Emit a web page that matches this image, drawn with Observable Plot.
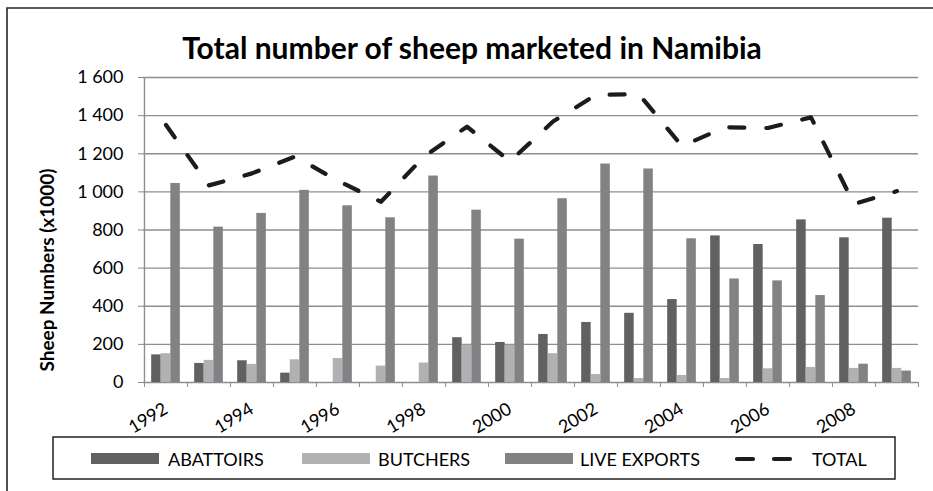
<!DOCTYPE html>
<html><head><meta charset="utf-8">
<script src="https://cdn.jsdelivr.net/npm/d3@7"></script>
<script src="https://cdn.jsdelivr.net/npm/@observablehq/plot@0.6"></script>
<style>body{margin:0;background:#fff;overflow:hidden;}</style>
</head><body><div id="chart"></div>
<script>
const years = [1992,1993,1994,1995,1996,1997,1998,1999,2000,2001,2002,2003,2004,2005,2006,2007,2008,2009];
const abattoirs = [145,100,114,49,0,0,0,235,210,252,315,363,435,769,724,853,759,862];
const butchers = [151,116,95,119,126,86,102,196,195,151,42,21,37,21,72,79,74,74];
const liveExports = [1044,815,887,1008,927,864,1083,904,752,964,1146,1120,754,543,533,456,96,60];
const total = [1351,1034,1097,1185,1058,948,1185,1342,1160,1369,1509,1512,1240,1339,1335,1391,936,1004];
const yTicks = [0,200,400,600,800,1000,1200,1400,1600];
const xLabels = [1992,1994,1996,1998,2000,2002,2004,2006,2008];
const seriesNames = ["ABATTOIRS","BUTCHERS","LIVE EXPORTS","TOTAL"];
const colors = ["#616161","#b1b1b3","#828285","#1c1c1c"];
const titleText = "Total number of sheep marketed in Namibia";
const yLabelText = "Sheep Numbers (x1000)";

const W = 933, H = 491, mL = 143, mR = 15, mT = 77, mB = 109;
const bw = (W - mL - mR) / years.length;
const barW = bw / 4.5;
const outer = (bw - 3 * barW) / 2;
const fmt = d3.formatLocale({decimal: ".", thousands: " ", grouping: [3], currency: ["", ""]}).format(",");
const rows = years.map((y, i) => ({year: y, a: abattoirs[i], b: butchers[i], l: liveExports[i], t: total[i]}));
const gridColor = "#8e8e8e";

const chart = Plot.plot({
  width: W, height: H,
  marginLeft: mL, marginRight: mR, marginTop: mT, marginBottom: mB,
  style: {fontFamily: "Lato, 'Open Sans', sans-serif", fontSize: "16px", background: "#fff", color: "#000", overflow: "visible"},
  x: {type: "band", domain: years, padding: 0, label: null},
  y: {domain: [0, 1600], label: null},
  marks: [
    Plot.ruleY(yTicks, {stroke: gridColor, strokeWidth: 1.4}),
    Plot.ruleX([years[0]], {x: d => d, dx: -bw / 2, stroke: gridColor, strokeWidth: 1.4}),
    Plot.barY(rows, {x: "year", y: "a", fill: colors[0], insetLeft: outer, insetRight: bw - outer - barW}),
    Plot.barY(rows, {x: "year", y: "b", fill: colors[1], insetLeft: outer + barW, insetRight: bw - outer - 2 * barW}),
    Plot.barY(rows, {x: "year", y: "l", fill: colors[2], insetLeft: outer + 2 * barW, insetRight: outer}),
    Plot.line(rows, {x: "year", y: "t", stroke: colors[3], strokeWidth: 4.2, strokeDasharray: "15,22", strokeLinecap: "round", strokeLinejoin: "round"}),
    Plot.axisY({ticks: yTicks, tickSize: 5, tickPadding: 15, tickFormat: fmt, fontSize: 18, label: null, stroke: gridColor, fill: "#000"}),
    Plot.axisX({ticks: years, tickSize: 5, dx: -bw / 2, fill: "none", stroke: gridColor, label: null}),
    Plot.axisX({ticks: [years[years.length - 1]], tickSize: 5, dx: bw / 2, fill: "none", stroke: gridColor, label: null}),
    Plot.axisX({ticks: xLabels, tickSize: 0, tickPadding: 16, dy: 9, tickRotate: -31, tickFormat: d => String(d), fontSize: 18, label: null, fill: "#000"})
  ]
});

const svg = d3.select(chart);
svg.append("path").attr("d", `M7,${H + 5}V8H${W + 5}`).attr("fill", "none").attr("stroke", "#262626").attr("stroke-width", 1.6);
svg.append("text").attr("x", 472).attr("y", 59).attr("text-anchor", "middle")
  .attr("font-weight", "bold").attr("font-size", 30).attr("fill", "#000").text(titleText);
svg.append("text").attr("transform", "translate(54,270) rotate(-90)").attr("text-anchor", "middle")
  .attr("font-weight", "bold").attr("font-size", 19).attr("fill", "#000").text(yLabelText);

const lg = svg.append("g").attr("text-anchor", "start");
lg.append("rect").attr("x", 53).attr("y", 437).attr("width", 842).attr("height", 42)
  .attr("fill", "none").attr("stroke", "#222").attr("stroke-width", 1.5);
const swX = [91, 302, 505];
const txX = [168, 378, 580, 812];
swX.forEach((x, i) => {
  lg.append("rect").attr("x", x).attr("y", 453).attr("width", 68).attr("height", 11).attr("fill", colors[i]);
});
lg.append("line").attr("x1", 737).attr("x2", 790).attr("y1", 459).attr("y2", 459)
  .attr("stroke", colors[3]).attr("stroke-width", 4.2).attr("stroke-dasharray", "16,21").attr("stroke-linecap", "round");
seriesNames.forEach((s, i) => {
  lg.append("text").attr("x", txX[i]).attr("y", 465.5).attr("text-anchor", "start")
    .attr("font-size", 18).attr("fill", "#000").text(s);
});

document.getElementById("chart").appendChild(chart);
</script>
</body></html>
